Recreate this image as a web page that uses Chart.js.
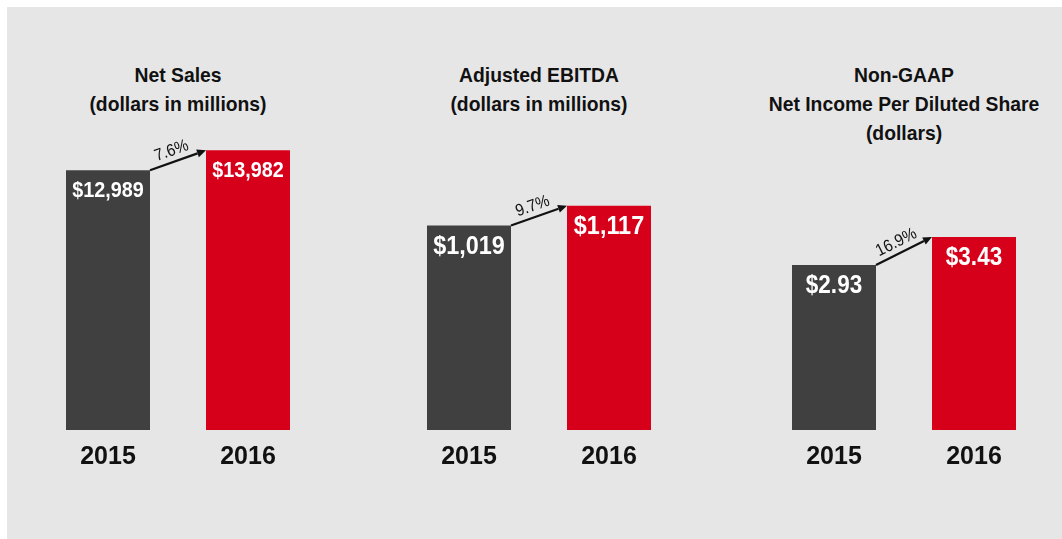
<!DOCTYPE html>
<html>
<head>
<meta charset="utf-8">
<script src="https://cdn.jsdelivr.net/npm/chart.js@4.4.1/dist/chart.umd.min.js"></script>
<style>
  body { margin: 0; background: #fff; width: 1062px; height: 539px; overflow: hidden; position: relative; }
  #bg { position: absolute; left: 7px; top: 7px; width: 1055px; height: 532px; background: #e6e6e6; }
  .title { position: absolute; top: 60px; width: 320px; text-align: center; color: #111;
           font: bold 21px/29px "Liberation Sans", Arial, sans-serif;
           transform: scaleX(0.92); transform-origin: 50% 0; }
  .box { position: absolute; top: 130px; width: 280px; height: 354px; }
</style>
</head>
<body>
<div id="bg"></div>
<div class="title" style="left:18px">Net Sales<br>(dollars in millions)</div>
<div class="title" style="left:379px">Adjusted EBITDA<br>(dollars in millions)</div>
<div class="title" style="left:744px">Non-GAAP<br>Net Income Per Diluted Share<br>(dollars)</div>
<div class="box" style="left:38px"><canvas id="netSalesChart"></canvas></div>
<div class="box" style="left:399px"><canvas id="ebitdaChart"></canvas></div>
<div class="box" style="left:764px"><canvas id="epsChart"></canvas></div>
<script>
const years = ['2015', '2016'];
const netSales = [12989, 13982];
const adjustedEbitda = [1019, 1117];
const nonGaapEps = [2.93, 3.43];
const growthLabels = ['7.6%', '9.7%', '16.9%'];

const FONT = '"Liberation Sans", Arial, sans-serif';

const dollars = v => '$' + v.toLocaleString('en-US');
const cents = v => '$' + v.toFixed(2);

// white value labels inside the bars + growth arrow between them
const barAnnotations = {
    id: 'barAnnotations',
    afterDatasetsDraw(chart, args, opts) {
        const ctx = chart.ctx;
        const bars = chart.getDatasetMeta(0).data;
        const values = chart.data.datasets[0].data;
        ctx.save();
        ctx.fillStyle = '#fff';
        ctx.font = 'bold ' + opts.size + 'px ' + FONT;
        ctx.textAlign = 'center';
        ctx.textBaseline = 'middle';
        bars.forEach((b, i) => {
            ctx.save();
            ctx.translate(b.x, b.y + 21);
            ctx.scale(0.9, 1);   // narrow it a bit, the original face is condensed
            ctx.fillText(opts.format(values[i]), 0, 0);
            ctx.restore();
        });

        const a = bars[0], c = bars[1];
        const x0 = a.x + a.width / 2, y0 = a.y;
        const x1 = c.x - c.width / 2, y1 = c.y;
        const ang = Math.atan2(y1 - y0, x1 - x0);
        const cos = Math.cos(ang), sin = Math.sin(ang);
        const head = 9;
        ctx.strokeStyle = '#111';
        ctx.fillStyle = '#111';
        ctx.lineWidth = 2.2;
        ctx.beginPath();
        ctx.moveTo(x0, y0);
        ctx.lineTo(x1 - head * cos, y1 - head * sin);
        ctx.stroke();
        ctx.beginPath();
        ctx.moveTo(x1, y1);
        ctx.lineTo(x1 - head * cos + 4 * sin, y1 - head * sin - 4 * cos);
        ctx.lineTo(x1 - head * cos - 4 * sin, y1 - head * sin + 4 * cos);
        ctx.closePath();
        ctx.fill();

        const mx = (x0 + x1) / 2 - 3 * cos + 11 * sin;
        const my = (y0 + y1) / 2 - 3 * sin - 11 * cos;
        ctx.translate(mx, my);
        ctx.rotate(ang);
        ctx.scale(0.9, 1);
        ctx.font = '17px ' + FONT;
        ctx.fillText(opts.growth, 0, 0);
        ctx.restore();
    }
};

function makeChart(id, values, yMax, labelSize, format, growth) {
    return new Chart(document.getElementById(id), {
        type: 'bar',
        data: {
            labels: years,
            datasets: [{
                data: values,
                backgroundColor: ['#404040', '#d7001a'],
                barPercentage: 0.6,
                categoryPercentage: 1
            }]
        },
        options: {
            responsive: true,
            maintainAspectRatio: false,
            animation: false,
            layout: { padding: 0 },
            plugins: {
                legend: { display: false },
                tooltip: { enabled: false },
                barAnnotations: { size: labelSize, format: format, growth: growth }
            },
            scales: {
                x: {
                    grid: { display: false, drawTicks: false },
                    border: { display: false },
                    ticks: { color: '#111', padding: 12, font: { family: FONT, size: 25, weight: 'bold' } }
                },
                y: { display: false, min: 0, max: yMax }
            }
        },
        plugins: [barAnnotations]
    });
}

makeChart('netSalesChart', netSales, 15000, 22, dollars, growthLabels[0]);
makeChart('ebitdaChart', adjustedEbitda, 1495, 26, dollars, growthLabels[1]);
makeChart('epsChart', nonGaapEps, 5.33, 25, cents, growthLabels[2]);
</script>
</body>
</html>
